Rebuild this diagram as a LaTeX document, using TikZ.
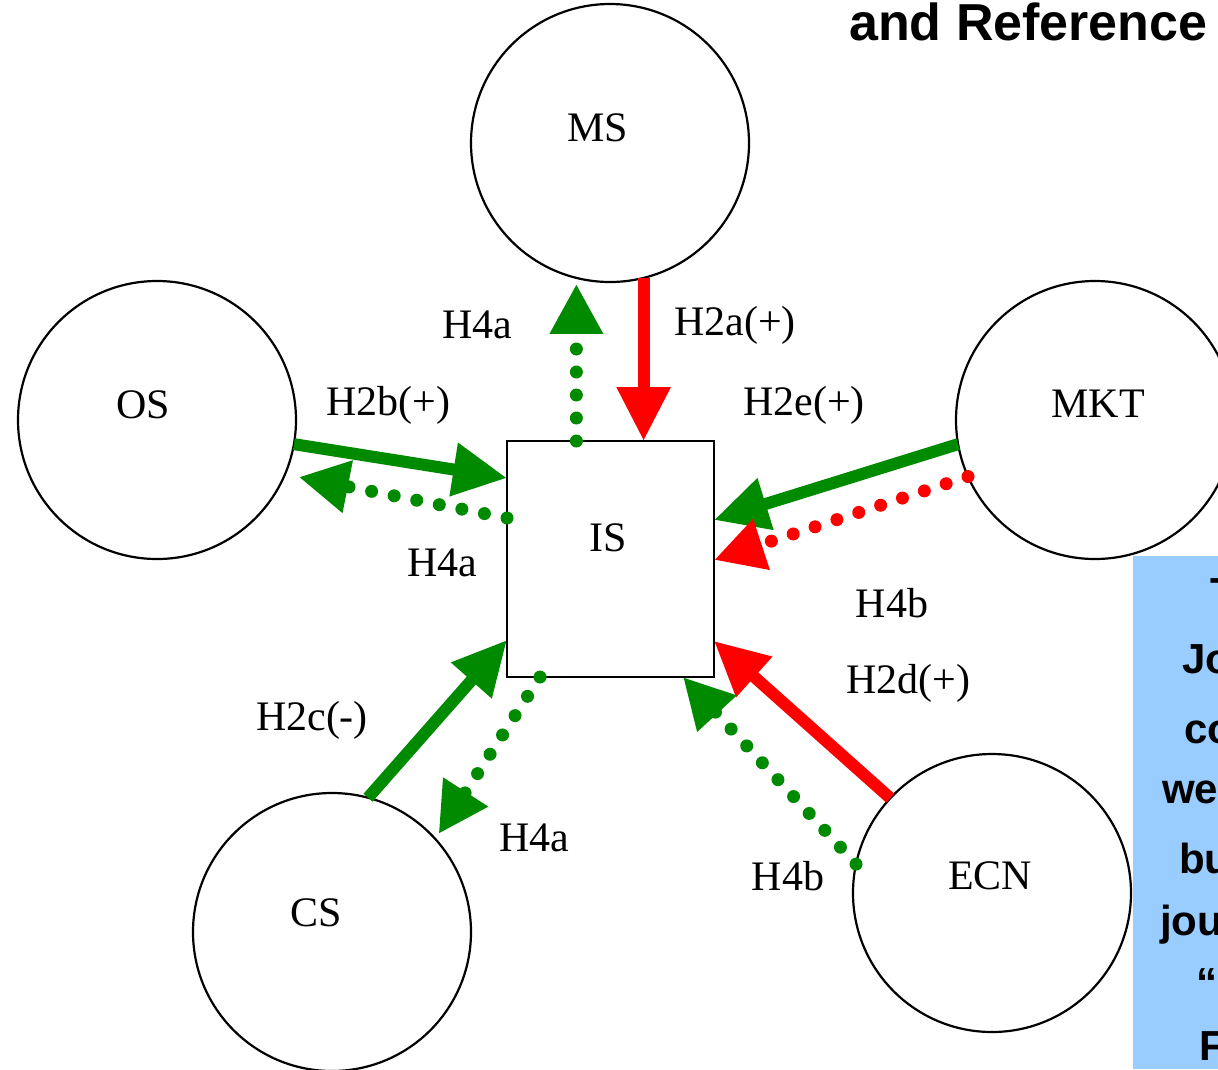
\documentclass[tikz,border=0pt]{standalone}
\usepackage{fontspec}
\setmainfont{Liberation Serif}
\newfontfamily\hsans{Liberation Sans}
\usetikzlibrary{arrows.meta,calc}
\definecolor{grn}{RGB}{0,138,0}
\definecolor{rd}{RGB}{255,0,0}
\definecolor{skyb}{RGB}{153,204,255}
\begin{document}
\begin{tikzpicture}[x=1pt,y=-1pt,
  circ/.style={draw, circle, line width=2.2pt, minimum size=278pt, inner sep=0pt, outer sep=0pt},
  lbl/.style={font=\fontsize{42}{48}\selectfont, inner sep=0pt},
  side/.style={font=\hsans\bfseries\fontsize{42}{48}\selectfont, inner sep=0pt, anchor=base west},
  con/.style={line width=12pt, -{Triangle[length=54pt,width=51pt]}},
  dots/.style={line width=13pt, line cap=round, dash pattern=on 0pt off 23pt, -{Triangle[length=50pt,width=50pt]}},
]
\useasboundingbox (0,0) rectangle (1218,1069);
\fill[white] (0,0) rectangle (1218,1069);

% title fragment
\node[font=\hsans\bfseries\fontsize{52}{60}\selectfont, inner sep=0pt, anchor=base west] (title) at (849,40) {and Reference};

% circles
\node[circ] (MS) at (610,143) {};
\node[circ] (OS) at (157,420) {};
\node[circ] (MKT) at (1095,420) {};
\node[circ] (CS) at (332,932) {};
\node[circ] (ECN) at (992,893) {};
\node[draw, line width=2.6pt, minimum width=207pt, minimum height=236pt, inner sep=0pt, outer sep=0pt] (IS) at (610.5,559) {};

% node texts
\node[lbl] (MSt) at (598,128) {MS};
\node[lbl] (OSt) at (143,405) {OS};
\node[lbl] (MKTt) at (1098,404) {MKT};
\node[lbl] (CSt) at (316,913) {CS};
\node[lbl] (ECNt) at (990,876) {ECN};
\node[lbl] (ISt) at (608,538) {IS};

% connectors
\draw[con, rd] (MS.-76) -- (MS.-76 |- IS.north);
\draw[dots, grn, shorten >=6pt] (MS.-104 |- IS.north) -- (MS.-104);
\draw[con, grn] (OS.-10) -- ([yshift=-37pt]IS.north west);
\draw[dots, grn, shorten >=14pt] ([yshift=-77pt]IS.north west) -- (OS.-23);
\draw[con, grn] (MKT.-170.5) -- ([yshift=-79pt]IS.north east);
\draw[dots, rd] (MKT.-156) -- ([yshift=-119pt]IS.north east);
\draw[con, grn] (CS.75.5) -- ([yshift=37pt]IS.south west);
\draw[dots, grn, shorten >=6pt] ([xshift=33pt]IS.south west) -- (CS.42);
\draw[con, rd] (ECN.137.6) -- ([yshift=36pt]IS.south east);
\draw[dots, grn] (ECN.168.7) -- ([xshift=-31pt]IS.south east);

% labels
\node[lbl] (l1) at (477,325) {H4a};
\node[lbl] (l2) at (735,325) {H2a(+)};
\node[lbl] (l3) at (388,405) {H2b(+)};
\node[lbl] (l4) at (804,405) {H2e(+)};
\node[lbl] (l5) at (442,563) {H4a};
\node[lbl] (l6) at (892,603) {H4b};
\node[lbl] (l7) at (908,683) {H2d(+)};
\node[lbl] (l8) at (312,720) {H2c(-)};
\node[lbl] (l9) at (534,838) {H4a};
\node[lbl] (l10) at (788,876) {H4b};

% side box
\node[fill=skyb, inner sep=0pt, outer sep=0pt, minimum width=85pt, minimum height=513pt, anchor=north west] (note) at (1133,556) {};
\begin{scope}
\clip (1133,556) rectangle (1218,1069);
\node[side] (s1) at (1210,607) {T};
\node[side] (s2) at (1182,673) {Jo};
\node[side] (s3) at (1184,743) {co};
\node[side] (s4) at (1162,803) {we};
\node[side] (s5) at (1179,873) {bu};
\node[side] (s6) at (1160,935) {jou};
\node[side] (s7) at (1196,997) {“};
\node[side] (s8) at (1199,1060) {F};
\end{scope}
\end{tikzpicture}
\end{document}
